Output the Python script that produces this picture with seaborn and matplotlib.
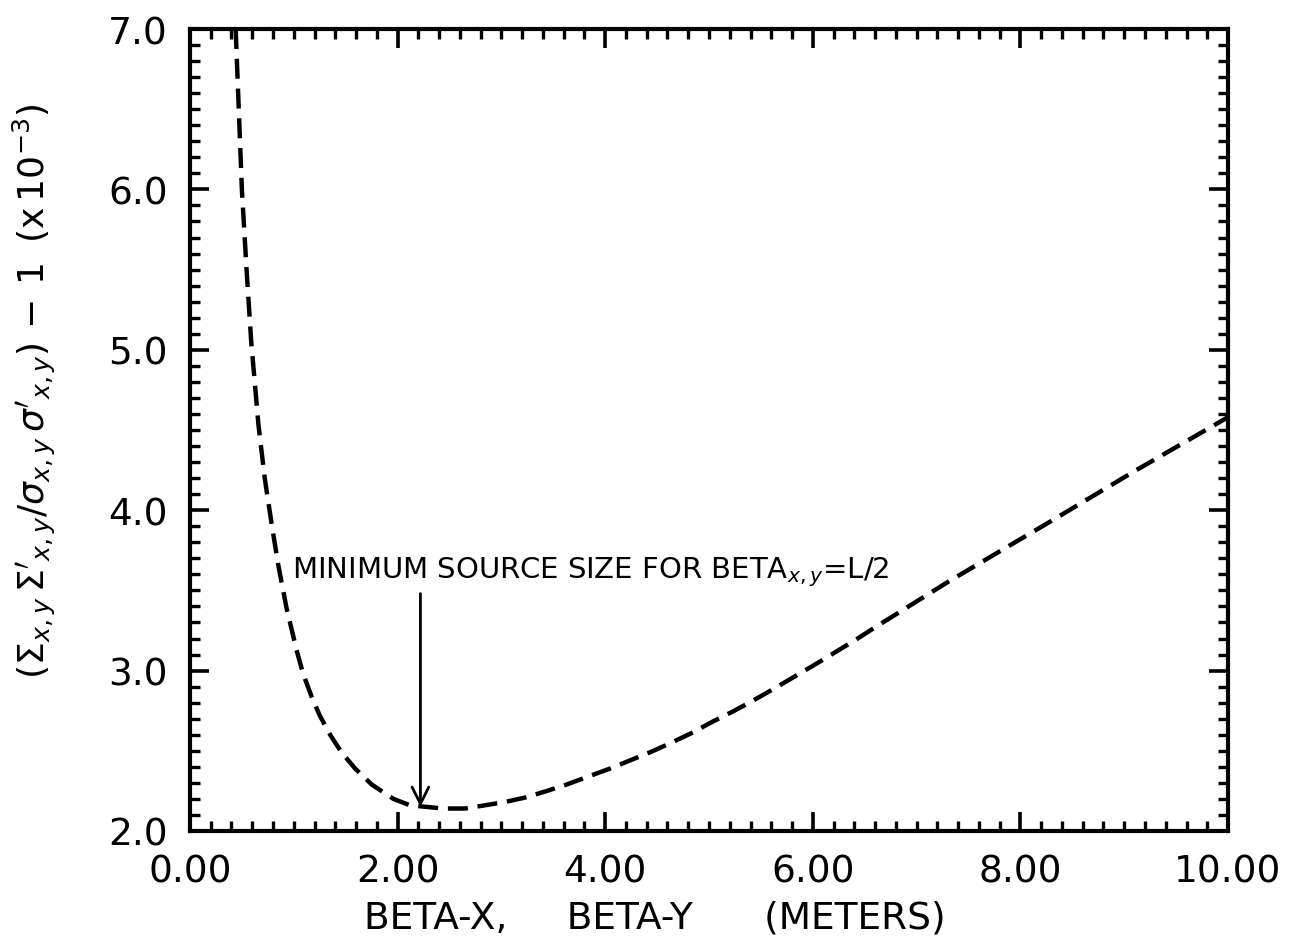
import matplotlib
matplotlib.use("Agg")
import matplotlib.pyplot as plt
from matplotlib.ticker import MultipleLocator, FixedLocator, FixedFormatter
import seaborn as sns

# ---- data ----
beta = [0.44, 0.47, 0.50, 0.545, 0.59, 0.66, 0.72, 0.79, 0.85, 0.93, 1.03, 1.09,
        1.17, 1.25, 1.35, 1.46, 1.59, 1.75, 1.96, 2.12, 2.44, 2.65, 2.84, 3.03,
        3.24, 3.44, 3.63, 3.84, 4.05, 4.24, 4.43, 4.62, 4.83, 5.03, 5.23, 5.43,
        5.62, 5.83, 6.04, 6.23, 6.42, 6.60, 7.32, 8.29, 9.09, 9.92, 10.00]
ratio = [7.00, 6.50, 6.00, 5.50, 5.05, 4.53, 4.20, 3.90, 3.66, 3.39, 3.12, 2.98,
         2.84, 2.72, 2.60, 2.49, 2.39, 2.29, 2.20, 2.16, 2.14, 2.14, 2.16, 2.18,
         2.21, 2.25, 2.29, 2.34, 2.39, 2.44, 2.49, 2.545, 2.61, 2.68, 2.745, 2.815,
         2.885, 2.965, 3.045, 3.12, 3.195, 3.27, 3.56, 3.93, 4.24, 4.55, 4.58]
x_ticks = [0, 2, 4, 6, 8, 10]
x_tick_labels = ["0.00", "2.00", "4.00", "6.00", "8.00", "10.00"]
y_ticks = [2, 3, 4, 5, 6, 7]
y_tick_labels = ["2.0", "3.0", "4.0", "5.0", "6.0", "7.0"]
annot_text = r"MINIMUM SOURCE SIZE FOR BETA$_{x,y}$=L/2"
annot_xy = (2.22, 2.15)
annot_from = (2.22, 3.48)
annot_text_pos = (0.98, 3.62)

sns.set_theme(style="white")
plt.rcParams['font.family'] = ['DejaVu Sans']
plt.rcParams['mathtext.fontset'] = 'dejavusans'
plt.rcParams['text.color'] = 'black'
plt.rcParams['axes.labelcolor'] = 'black'
plt.rcParams['xtick.color'] = 'black'
plt.rcParams['ytick.color'] = 'black'

fig = plt.figure(figsize=(12.95, 9.53), dpi=100)
ax = fig.add_axes([0.1467, 0.127, 0.8016, 0.8415])

sns.lineplot(x=beta, y=ratio, ax=ax, color="black", lw=3.2, sort=False)
ax.lines[0].set_dashes([4.5, 2.2])

ax.set_xlim(0, 10)
ax.set_ylim(2, 7)
ax.xaxis.set_major_locator(FixedLocator(x_ticks))
ax.xaxis.set_major_formatter(FixedFormatter(x_tick_labels))
ax.yaxis.set_major_locator(FixedLocator(y_ticks))
ax.yaxis.set_major_formatter(FixedFormatter(y_tick_labels))
ax.xaxis.set_minor_locator(MultipleLocator(0.2))
ax.yaxis.set_minor_locator(MultipleLocator(0.1))

ax.tick_params(which="both", direction="in", top=True, right=True,
               bottom=True, left=True, color="black")
ax.tick_params(which="major", length=14, width=2.6, labelsize=27, pad=16)
ax.tick_params(which="minor", length=7, width=2.4)
for sp in ax.spines.values():
    sp.set_visible(True)
    sp.set_color("black")
    sp.set_linewidth(3.0)

ax.set_xlabel("BETA-X,     BETA-Y      (METERS)", fontsize=27, labelpad=12)
ax.xaxis.set_label_coords(0.448, -0.085)
ax.set_ylabel(r"$(\Sigma_{x,y}\,\Sigma'_{x,y}/\sigma_{x,y}\,\sigma'_{x,y})\,-\,1\;\;(\mathrm{x}\,10^{-3})$",
              fontsize=26)
ax.yaxis.set_label_coords(-0.127, 0.55)

ax.annotate("", xy=annot_xy, xytext=annot_from,
            arrowprops=dict(arrowstyle="->", color="black", lw=2.0,
                            mutation_scale=30, shrinkA=0, shrinkB=0))
ax.text(annot_text_pos[0], annot_text_pos[1], annot_text, fontsize=21,
        ha="left", va="center", color="black")

fig.savefig("out.png", dpi=100, facecolor="white")
